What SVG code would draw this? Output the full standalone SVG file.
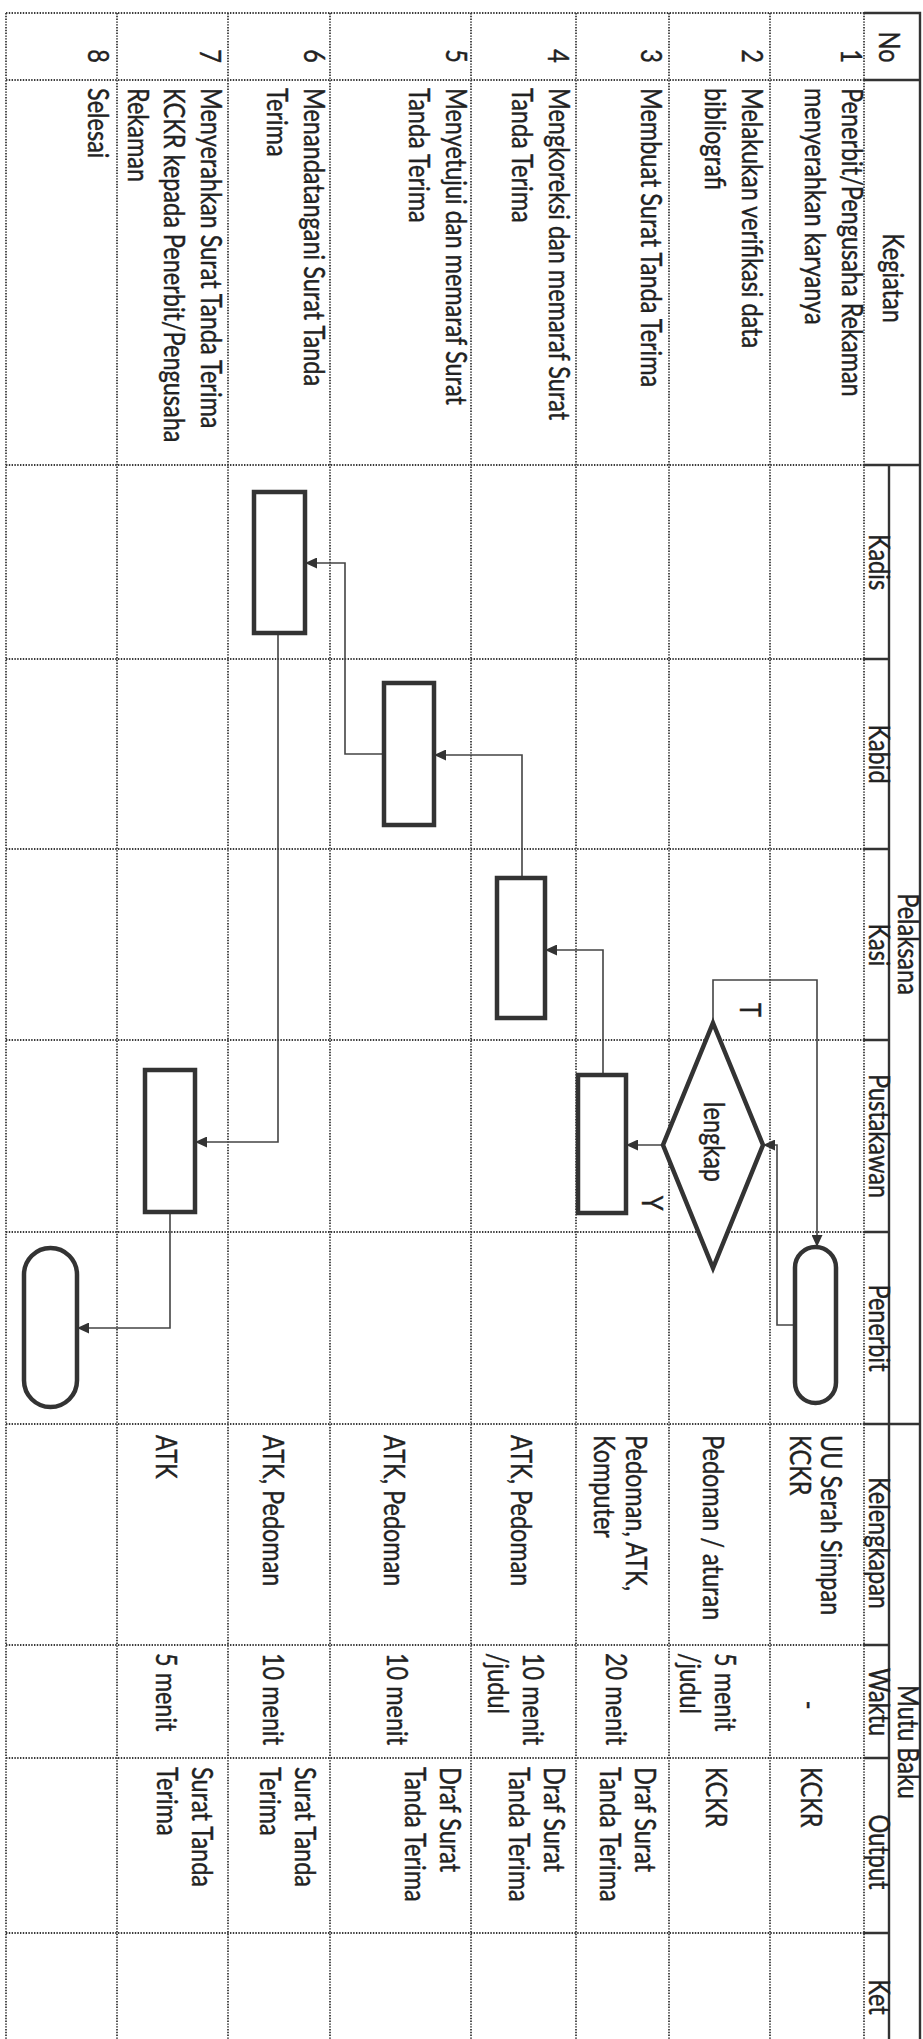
<svg xmlns="http://www.w3.org/2000/svg" width="923" height="2039" viewBox="0 0 923 2039">
<style>
.g{stroke:#3a3a3a;stroke-width:1.8;stroke-dasharray:1.4 1.4;fill:none}
.h{stroke:#333;stroke-width:2.4;fill:none}
.s{fill:#fff;stroke:#333;stroke-width:4.5}
.c{stroke:#444;stroke-width:1.6;fill:none}
.t{font-family:Lato,"Open Sans",sans-serif;font-size:23.5px;fill:#222;stroke:#222;stroke-width:0.35}
.m{text-anchor:middle}
</style>
<defs>
<marker id="ar" markerUnits="userSpaceOnUse" markerWidth="13" markerHeight="11" refX="12" refY="5.5" orient="auto">
<path d="M0,0 L12,5.5 L0,11 z" fill="#333"/>
</marker>
</defs>
<rect width="923" height="2039" fill="#fff"/>
<g id="grid">
<path class="g" d="M6,13V2039M117,13V2039M228,13V2039M330,13V2039M471,13V2039M576,13V2039M669,13V2039M770,13V2039M864,13V2039"/>
<path class="g" d="M6,13H864M6,80H864M6,465H864M6,659H864M6,849H864M6,1040H864M6,1232H864M6,1424H864M6,1645H864M6,1758H864M6,1933H864"/>
<path class="h" d="M864,13H920V2039M889,465V2039M864,80H920M864,465H920M864,1424H920M864,659H889M864,849H889M864,1040H889M864,1232H889M864,1645H889M864,1758H889M864,1933H889"/>
</g>
<g id="header">
<text class="t m" transform="translate(879,47) rotate(90) scale(1,1.2)">No</text>
<text class="t m" transform="translate(883,278) rotate(90) scale(1,1.2)">Kegiatan</text>
<text class="t m" transform="translate(898,944) rotate(90) scale(1,1.2)">Pelaksana</text>
<text class="t m" transform="translate(869,562) rotate(90) scale(1,1.2)">Kadis</text>
<text class="t m" transform="translate(869,754) rotate(90) scale(1,1.2)">Kabid</text>
<text class="t m" transform="translate(869,945) rotate(90) scale(1,1.2)">Kasi</text>
<text class="t m" transform="translate(869,1136) rotate(90) scale(1,1.2)">Pustakawan</text>
<text class="t m" transform="translate(869,1328) rotate(90) scale(1,1.2)">Penerbit</text>
<text class="t m" transform="translate(898,1742) rotate(90) scale(1,1.2)">Mutu Baku</text>
<text class="t m" transform="translate(869,1543) rotate(90) scale(1,1.2)">Kelengkapan</text>
<text class="t m" transform="translate(869,1702) rotate(90) scale(1,1.2)">Waktu</text>
<text class="t m" transform="translate(869,1852) rotate(90) scale(1,1.2)">Output</text>
<text class="t m" transform="translate(869,1997) rotate(90) scale(1,1.2)">Ket</text>
</g>
<g id="numbers">
<text class="t m" transform="translate(841,56) rotate(90) scale(1,1.2)">1</text>
<text class="t m" transform="translate(742,56) rotate(90) scale(1,1.2)">2</text>
<text class="t m" transform="translate(641,56) rotate(90) scale(1,1.2)">3</text>
<text class="t m" transform="translate(548,56) rotate(90) scale(1,1.2)">4</text>
<text class="t m" transform="translate(446,56) rotate(90) scale(1,1.2)">5</text>
<text class="t m" transform="translate(304,56) rotate(90) scale(1,1.2)">6</text>
<text class="t m" transform="translate(200,56) rotate(90) scale(1,1.2)">7</text>
<text class="t m" transform="translate(88,56) rotate(90) scale(1,1.2)">8</text>
</g>
<g id="kegiatan">
<text class="t" transform="translate(842,88) rotate(90) scale(1,1.2)"><tspan x="0">Penerbit/Pengusaha Rekaman</tspan><tspan x="0" dy="30.5">menyerahkan karyanya</tspan></text>
<text class="t" transform="translate(742,88) rotate(90) scale(1,1.2)"><tspan x="0">Melakukan verifikasi data</tspan><tspan x="0" dy="30.5">bibliografi</tspan></text>
<text class="t" transform="translate(641,88) rotate(90) scale(1,1.2)">Membuat Surat Tanda Terima</text>
<text class="t" transform="translate(549,88) rotate(90) scale(1,1.2)"><tspan x="0">Mengkoreksi dan memaraf Surat</tspan><tspan x="0" dy="30.5">Tanda Terima</tspan></text>
<text class="t" transform="translate(446,88) rotate(90) scale(1,1.2)"><tspan x="0">Menyetujui dan memaraf Surat</tspan><tspan x="0" dy="30.5">Tanda Terima</tspan></text>
<text class="t" transform="translate(304,88) rotate(90) scale(1,1.2)"><tspan x="0">Menandatangani Surat Tanda</tspan><tspan x="0" dy="30.5">Terima</tspan></text>
<text class="t" transform="translate(201,88) rotate(90) scale(1,1.2)"><tspan x="0">Menyerahkan Surat Tanda Terima</tspan><tspan x="0" dy="30.5">KCKR kepada Penerbit/Pengusaha</tspan><tspan x="0" dy="30.5">Rekaman</tspan></text>
<text class="t" transform="translate(88,88) rotate(90) scale(1,1.2)">Selesai</text>
</g>
<g id="kelengkapan">
<text class="t" transform="translate(821,1435) rotate(90) scale(1,1.2)"><tspan x="0">UU Serah Simpan</tspan><tspan x="0" dy="26">KCKR</tspan></text>
<text class="t" transform="translate(703,1435) rotate(90) scale(1,1.2)">Pedoman / aturan</text>
<text class="t" transform="translate(626,1435) rotate(90) scale(1,1.2)"><tspan x="0">Pedoman, ATK,</tspan><tspan x="0" dy="27">Komputer</tspan></text>
<text class="t" transform="translate(511,1435) rotate(90) scale(1,1.2)">ATK, Pedoman</text>
<text class="t" transform="translate(384,1435) rotate(90) scale(1,1.2)">ATK, Pedoman</text>
<text class="t" transform="translate(263,1435) rotate(90) scale(1,1.2)">ATK, Pedoman</text>
<text class="t" transform="translate(156,1435) rotate(90) scale(1,1.2)">ATK</text>
</g>
<g id="waktu">
<text class="t m" transform="translate(799,1705) rotate(90) scale(1,1.2)">-</text>
<text class="t" transform="translate(715,1653) rotate(90) scale(1,1.2)"><tspan x="0">5 menit</tspan><tspan x="0" dy="29">/judul</tspan></text>
<text class="t" transform="translate(606,1653) rotate(90) scale(1,1.2)">20 menit</text>
<text class="t" transform="translate(523,1653) rotate(90) scale(1,1.2)"><tspan x="0">10 menit</tspan><tspan x="0" dy="29">/judul</tspan></text>
<text class="t" transform="translate(387,1653) rotate(90) scale(1,1.2)">10 menit</text>
<text class="t" transform="translate(263,1653) rotate(90) scale(1,1.2)">10 menit</text>
<text class="t" transform="translate(156,1653) rotate(90) scale(1,1.2)">5 menit</text>
</g>
<g id="output">
<text class="t" transform="translate(801,1767) rotate(90) scale(1,1.2)">KCKR</text>
<text class="t" transform="translate(706,1767) rotate(90) scale(1,1.2)">KCKR</text>
<text class="t" transform="translate(635,1767) rotate(90) scale(1,1.2)"><tspan x="0">Draf Surat</tspan><tspan x="0" dy="29">Tanda Terima</tspan></text>
<text class="t" transform="translate(544,1767) rotate(90) scale(1,1.2)"><tspan x="0">Draf Surat</tspan><tspan x="0" dy="29">Tanda Terima</tspan></text>
<text class="t" transform="translate(440,1767) rotate(90) scale(1,1.2)"><tspan x="0">Draf Surat</tspan><tspan x="0" dy="29">Tanda Terima</tspan></text>
<text class="t" transform="translate(295,1767) rotate(90) scale(1,1.2)"><tspan x="0">Surat Tanda</tspan><tspan x="0" dy="29">Terima</tspan></text>
<text class="t" transform="translate(192,1767) rotate(90) scale(1,1.2)"><tspan x="0">Surat Tanda</tspan><tspan x="0" dy="29">Terima</tspan></text>
</g>
<g id="connectors">
<path class="c" d="M795,1325H777V1145H763" marker-end="url(#ar)"/>
<path class="c" d="M713,1023V980H817V1247" marker-end="url(#ar)"/>
<path class="c" d="M663,1145H626" marker-end="url(#ar)"/>
<path class="c" d="M603,1075V950H545" marker-end="url(#ar)"/>
<path class="c" d="M522,878V755H434" marker-end="url(#ar)"/>
<path class="c" d="M384,754H345V563H305" marker-end="url(#ar)"/>
<path class="c" d="M278,633V1142H195" marker-end="url(#ar)"/>
<path class="c" d="M170,1212V1328H77" marker-end="url(#ar)"/>
<text class="t m" transform="translate(740,1010) rotate(90) scale(1,1.2)">T</text>
<text class="t m" transform="translate(642,1203) rotate(90) scale(1,1.2)">Y</text>
</g>
<g id="n1-start"><rect class="s" x="795" y="1247" width="41" height="156" rx="20.5"/></g>
<g id="n2-lengkap"><polygon class="s" points="713,1023 763,1145 713,1268 663,1145"/><text class="t m" transform="translate(704,1142) rotate(90) scale(1,1.2)">lengkap</text></g>
<g id="n3-pustakawan"><rect class="s" x="578" y="1075" width="48" height="138"/></g>
<g id="n4-kasi"><rect class="s" x="497" y="878" width="48" height="140"/></g>
<g id="n5-kabid"><rect class="s" x="384" y="683" width="50" height="142"/></g>
<g id="n6-kadis"><rect class="s" x="254" y="492" width="51" height="141"/></g>
<g id="n7-pustakawan"><rect class="s" x="145" y="1070" width="50" height="142"/></g>
<g id="n8-end"><rect class="s" x="24" y="1248" width="53" height="159" rx="26.5"/></g>
</svg>
